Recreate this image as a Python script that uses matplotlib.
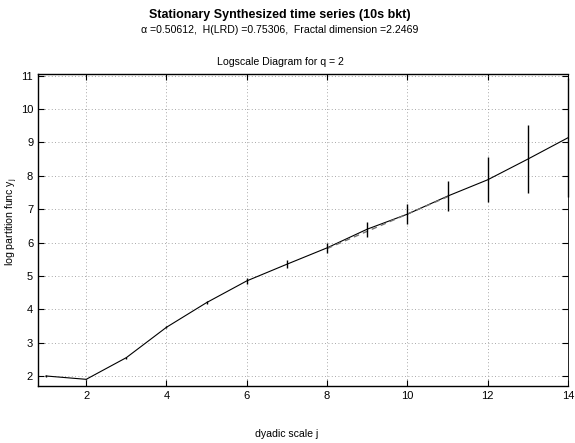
import matplotlib
matplotlib.use("Agg")
from matplotlib import pyplot as plt

plt.rcParams['font.family'] = ['Liberation Sans', 'DejaVu Sans']

# logscale diagram values
scales = [1, 2, 3, 4, 5, 6, 7, 8, 9, 10, 11, 12, 13, 14]
yj = [2.0, 1.9, 2.55, 3.46, 4.2, 4.85, 5.35, 5.84, 6.40, 6.85, 7.39, 7.88, 8.50, 9.14]
yerr = [0.02, 0.02, 0.03, 0.03, 0.05, 0.085, 0.12, 0.16, 0.22, 0.3, 0.45, 0.68, 1.03, 1.78]

# fitted regression segment (dashed, grey)
fit_j = [8, 11]
fit_y = [5.82, 7.37]

title = "Stationary Synthesized time series (10s bkt)"
subtitle = "\u03b1 =0.50612,  H(LRD) =0.75306,  Fractal dimension =2.2469"

fig = plt.figure(figsize=(5.75, 4.43), dpi=100)
ax = fig.add_axes([38/575, 1 - 386/443, 530/575, 312/443])

ax.plot(scales, yj, color='black', lw=0.8)
eb = ax.errorbar(scales, yj, yerr=yerr, fmt='none', ecolor='black', elinewidth=1.0,
                 capsize=0, zorder=3)
for c in eb.lines[2]:
    c.set_clip_on(False)
ax.plot(fit_j, fit_y, color='0.45', lw=1.0, ls=(0, (4, 3)))

ax.set_xlim(0.8, 14)
ax.set_ylim(1.7, 11.05)
ax.set_xticks([2, 4, 6, 8, 10, 12, 14])
ax.set_yticks(range(2, 12))
ax.tick_params(direction='in', top=True, right=True, labelsize=8, length=4, width=0.8)
ax.grid(True, color='0.55', ls=(0, (1, 3)), lw=0.6)
for s in ax.spines.values():
    s.set_linewidth(1.0)
ax.spines['right'].set_linewidth(0.6)

fig.text(280/575, 1 - 15/443, title, ha='center', va='center', fontsize=9, fontweight='bold')
fig.text(280/575, 1 - 30/443, subtitle, ha='center', va='center', fontsize=7.6)
fig.text(280/575, 1 - 62/443, "Logscale Diagram for q = 2", ha='center', va='center', fontsize=7.6)
fig.text(287/575, 1 - 434/443, "dyadic scale j", ha='center', va='center', fontsize=7.6)
fig.text(12/575, 1 - 222/443, "log partition func y$_\\mathregular{j}$", ha='center', va='center',
         rotation=90, fontsize=7.6)

fig.savefig("out.png", dpi=100)
